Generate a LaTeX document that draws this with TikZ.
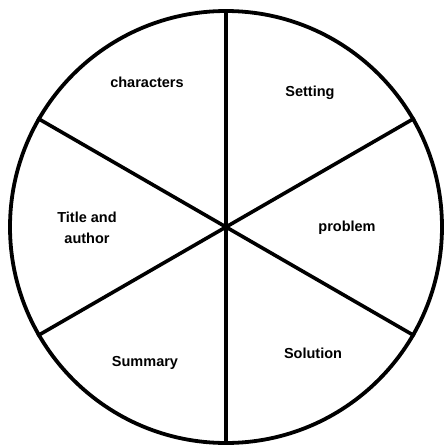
\documentclass[tikz,border=0pt]{standalone}
\usepackage{fontspec}
\setmainfont{Liberation Sans}
\begin{document}
\begin{tikzpicture}[x=1pt,y=-1pt,
  rim/.style={draw=black,line width=3.8pt},
  spoke/.style={draw=black,line width=3.6pt},
  lbl/.style={font=\fontsize{14.5}{21}\selectfont\bfseries,align=center,inner sep=0pt}]
\useasboundingbox[fill=white] (0,0) rectangle (445,445);
\coordinate (c) at (226,227);
\node[circle,minimum size=432pt,inner sep=0pt,rim] (wheel) at (c) {};
\foreach \a [count=\i] in {90,30,-30,-90,-150,150}{
  \draw[spoke] (c) -- (wheel.\a);
}
\node[lbl] (characters) at (147,82) {characters};
\node[lbl] (setting) at (310,93) {Setting};
\node[lbl] (title) at (87,228) {Title and\\author};
\node[lbl] (problem) at (347,228) {problem};
\node[lbl] (summary) at (145,363) {Summary};
\node[lbl] (solution) at (313,353) {Solution};
\end{tikzpicture}
\end{document}
